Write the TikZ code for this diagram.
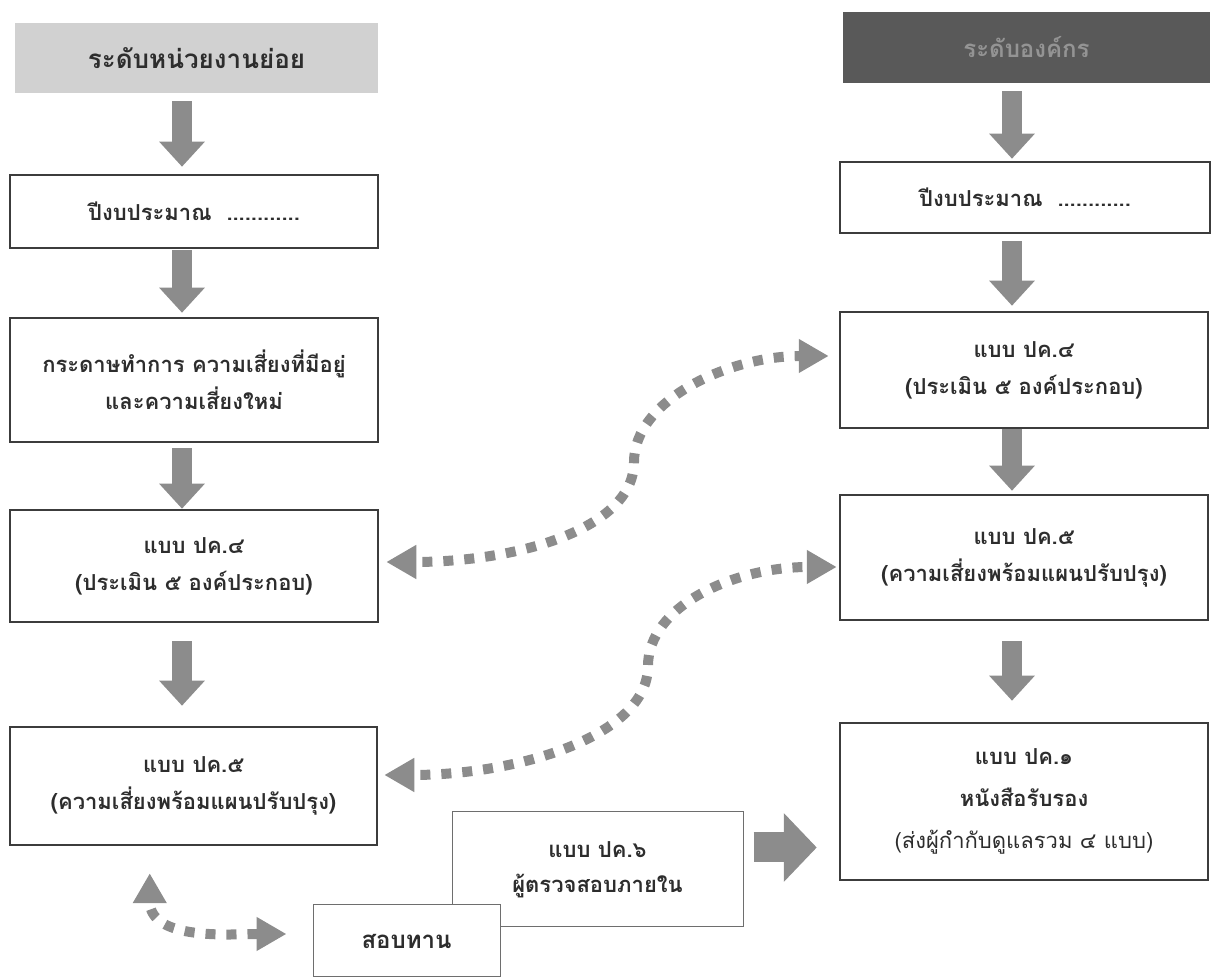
\documentclass[tikz,border=0pt]{standalone}
\usepackage{fontspec}
\newfontfamily\thaifont[Script=Thai]{Loma}
\usetikzlibrary{arrows.meta}
\definecolor{boxline}{RGB}{60,60,60}
\definecolor{thinline}{RGB}{110,110,110}
\definecolor{arrowgray}{RGB}{140,140,140}
\definecolor{txtgray}{RGB}{45,45,45}

\tikzset{
  box/.style={draw=boxline, line width=2.5pt, inner sep=0pt, align=center, text=txtgray,
    font=\thaifont\bfseries\fontsize{22}{37}\selectfont},
  thinbox/.style={box, draw=thinline, line width=1pt, fill=white},
  headbox/.style={box, draw=none},
  blockarrow/.style={draw=arrowgray, line width=20pt, -{Triangle[width=44pt,length=25pt]}},
  sidearrow/.style={draw=arrowgray, line width=30pt, -{Triangle[width=67pt,length=33pt]}},
  dotarrow/.style={draw=arrowgray, line width=10pt, dash pattern=on 10pt off 11pt, dash phase=13pt,
    arrows={Triangle[width=32pt,length=30pt]-Triangle[width=32pt,length=30pt]}}
}

\begin{document}
\begin{tikzpicture}[x=1pt,y=1pt]
  \useasboundingbox (0,0) rectangle (1219,979);

  \node[headbox, fill=black!18, minimum width=363pt, minimum height=70pt, font=\thaifont\bfseries\fontsize{26}{30}\selectfont] (lhead) at (196.5,921) {ระดับหน่วยงานย่อย};
  \node[box, minimum width=368pt, minimum height=73pt] (l1) at (194,767.5) {ปีงบประมาณ\ \ ............};
  \node[box, minimum width=368pt, minimum height=124pt] (l2) at (194,599) {กระดาษทำการ ความเสี่ยงที่มีอยู่\\และความเสี่ยงใหม่};
  \node[box, minimum width=368pt, minimum height=112pt] (l3) at (194,413) {แบบ ปค.๔\\(ประเมิน ๕ องค์ประกอบ)};
  \node[box, minimum width=367pt, minimum height=118pt] (l4) at (193.5,193) {แบบ ปค.๕\\(ความเสี่ยงพร้อมแผนปรับปรุง)};

  \node[headbox, fill=black!65, text=black!42, minimum width=367pt, minimum height=71pt, font=\thaifont\bfseries\fontsize{24}{30}\selectfont] (rhead) at (1026.5,931.5) {ระดับองค์กร};
  \node[box, minimum width=370pt, minimum height=71pt] (r1) at (1025,781.5) {ปีงบประมาณ\ \ ............};
  \node[box, minimum width=368pt, minimum height=116pt] (r2) at (1024,609) {แบบ ปค.๔\\(ประเมิน ๕ องค์ประกอบ)};
  \node[box, minimum width=368pt, minimum height=125pt] (r3) at (1024,421.5) {แบบ ปค.๕\\(ความเสี่ยงพร้อมแผนปรับปรุง)};
  \node[box, minimum width=368pt, minimum height=157pt, font=\thaifont\bfseries\fontsize{22}{42}\selectfont] (r4) at (1024,177.5)
    {แบบ ปค.๑\\หนังสือรับรอง\\{\mdseries\fontsize{22}{42}\selectfont (ส่งผู้กำกับดูแลรวม ๔ แบบ)}};

  \node[thinbox, minimum width=291pt, minimum height=115pt, font=\thaifont\bfseries\fontsize{22}{35}\selectfont] (p6) at (597.5,109.5) {แบบ ปค.๖\\ผู้ตรวจสอบภายใน};
  \node[thinbox, minimum width=187pt, minimum height=72pt, font=\thaifont\bfseries\fontsize{24}{30}\selectfont] (rev) at (406.5,38) {สอบทาน};

  \coordinate (laxis) at (182,0);
  \coordinate (raxis) at (1012,0);
  \draw[blockarrow, shorten <=7pt, shorten >=7pt] (lhead.south -| laxis) -- (l1.north -| laxis);
  \draw[blockarrow, shorten <=1pt, shorten >=4pt] (l1.south -| laxis) -- (l2.north -| laxis);
  \draw[blockarrow, shorten <=5pt] (l2.south -| laxis) -- (l3.north -| laxis);
  \draw[blockarrow, shorten <=18pt, shorten >=20pt] (l3.south -| laxis) -- (l4.north -| laxis);

  \draw[blockarrow, shorten <=7pt, shorten >=2pt] (rhead.south -| raxis) -- (r1.north -| raxis);
  \draw[blockarrow, shorten <=7pt, shorten >=5pt] (r1.south -| raxis) -- (r2.north -| raxis);
  \draw[blockarrow, shorten >=3pt] (r2.south -| raxis) -- (r3.north -| raxis);
  \draw[blockarrow, shorten <=20pt, shorten >=21pt] (r3.south -| raxis) -- (r4.north -| raxis);

  \draw[sidearrow, shorten <=10pt, shorten >=22pt] ([yshift=22pt]p6.east) -- ([yshift=22pt]p6.east -| r4.west);

  \coordinate (m1) at (634,517);
  \coordinate (m2) at (648,313);
  \draw[dotarrow, shorten <=7pt, shorten >=10pt] ([yshift=4pt]l3.east) .. controls +(135,0) and +(0,-68) .. (m1)
    .. controls +(0,62) and +(-110,0) .. ([yshift=14pt]r2.west);
  \draw[dotarrow, shorten <=6pt, shorten >=2pt] ([yshift=11pt]l4.east) .. controls +(140,0) and +(0,-70) .. (m2)
    .. controls +(0,60) and +(-105,0) .. ([yshift=-9.5pt]r3.west);
  \draw[dotarrow, shorten <=27pt, shorten >=26pt] ([xshift=141pt]l4.south west) .. controls +(0,-95) and +(-80,0) .. ([yshift=7pt]rev.west);
\end{tikzpicture}
\end{document}
